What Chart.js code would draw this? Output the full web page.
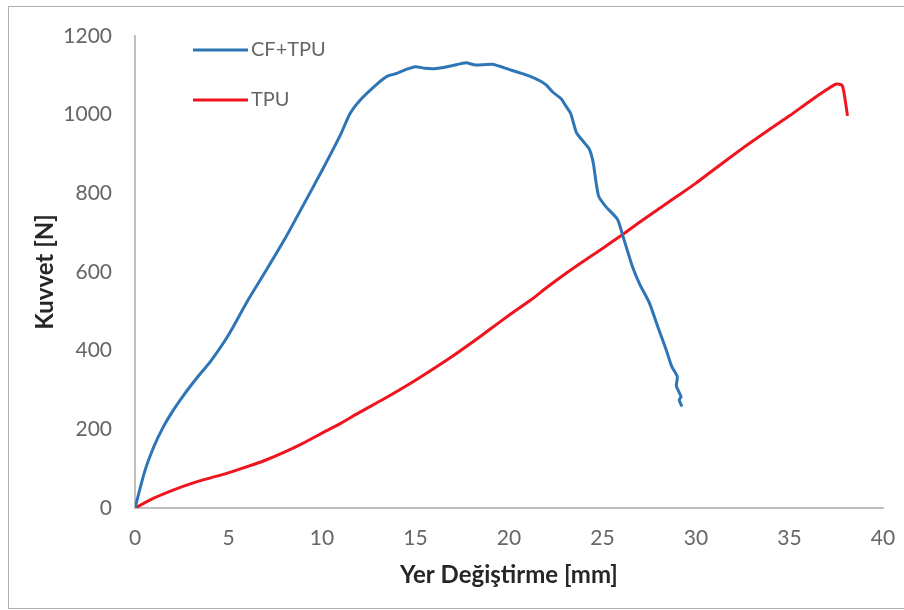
<!DOCTYPE html>
<html>
<head>
<meta charset="utf-8">
<script src="https://cdn.jsdelivr.net/npm/chart.js@4.4.1/dist/chart.umd.min.js"></script>
<style>
    html, body { margin: 0; padding: 0; background: #fff; }
    #wrap { position: relative; width: 904px; height: 610px; }
</style>
</head>
<body>
<div id="wrap"><canvas id="forceChart" width="904" height="610"></canvas></div>
<script>
// CF+TPU curve (displacement mm, force N)
const cfX = [0, 0.5, 1, 1.5, 2, 2.5, 3, 3.5, 4, 5, 6, 7, 8, 9, 10, 11, 11.5, 12, 13, 13.5, 14, 14.5, 15, 15.5, 16, 16.5, 17, 17.7, 18.2, 19.1, 20, 21, 21.7, 22.0, 22.35, 22.8, 23.0, 23.3, 23.6, 24.0, 24.3, 24.5, 24.65, 24.8, 25.2, 25.8, 26.1, 26.6, 27.0, 27.5, 28.0, 28.4, 28.7, 29.0, 28.95, 29.2, 29.1, 29.25];
const cfY = [0, 90, 155, 205, 245, 280, 312, 342, 370, 440, 525, 603, 683, 770, 858, 950, 1003, 1035, 1080, 1098, 1105, 1115, 1122, 1118, 1117, 1120, 1125, 1132, 1126, 1128, 1115, 1100, 1085, 1075, 1057, 1040, 1025, 1003, 955, 930, 912, 879, 830, 792, 765, 734, 690, 614, 568, 522, 455, 403, 360, 334, 310, 283, 275, 258];

// TPU curve
const tpuX = [0, 1, 2, 3, 4, 4.9, 6, 7, 7.9, 9, 10.1, 11, 12, 13.3, 15, 16.8, 18, 19, 20, 21.2, 22, 23, 24, 25, 26.1, 27, 28, 29, 30, 31, 32.5, 33, 34, 35, 36.1, 37, 37.5, 37.8, 37.9, 38, 38.1];
const tpuY = [0, 25, 45, 62, 76, 88, 105, 122, 140, 165, 193, 215, 243, 277, 325, 380, 420, 455, 490, 530, 560, 595, 628, 660, 696, 727, 760, 793, 826, 862, 915, 932, 965, 997, 1035, 1064, 1078, 1075, 1060, 1030, 997];

const seriesNames = ['CF+TPU', 'TPU'];
const xTitle = 'Yer Değiştirme [mm]';
const yTitle = 'Kuvvet [N]';

const FONT = 'Lato, "Open Sans", sans-serif';
const TICK_GRAY = '#666666';

function toPoints(xs, ys) {
    return xs.map((x, i) => ({ x: x, y: ys[i] }));
}

// legend drawn inside the plot, stacked vertically like the original
const insideLegend = {
    id: 'insideLegend',
    afterDatasetsDraw(chart) {
        const ctx = chart.ctx;
        const area = chart.chartArea;
        ctx.save();
        ctx.font = '20px ' + FONT;
        ctx.textBaseline = 'middle';
        chart.data.datasets.forEach((ds, i) => {
            const y = area.top + 14 + i * 50;
            const x0 = area.left + 58;
            ctx.strokeStyle = ds.borderColor;
            ctx.lineWidth = 3;
            ctx.beginPath();
            ctx.moveTo(x0, y);
            ctx.lineTo(x0 + 55, y);
            ctx.stroke();
            ctx.fillStyle = TICK_GRAY;
            ctx.fillText(ds.label, x0 + 58, y);
        });
        ctx.restore();
    }
};

const frameBorder = {
    id: 'frameBorder',
    afterDraw(chart) {
        const ctx = chart.ctx;
        ctx.save();
        ctx.strokeStyle = '#b0b0b0';
        ctx.lineWidth = 1;
        ctx.strokeRect(8.5, 6.5, 900, 602);
        ctx.restore();
    }
};

new Chart(document.getElementById('forceChart'), {
    type: 'scatter',
    data: {
        datasets: [
            {
                label: seriesNames[0],
                data: toPoints(cfX, cfY),
                showLine: true,
                borderColor: '#2E75B6',
                borderWidth: 3,
                pointRadius: 0,
                tension: 0.2
            },
            {
                label: seriesNames[1],
                data: toPoints(tpuX, tpuY),
                showLine: true,
                borderColor: '#F0141E',
                borderWidth: 3,
                pointRadius: 0,
                tension: 0.2
            }
        ]
    },
    options: {
        responsive: false,
        animation: false,
        layout: { padding: { left: 0, top: 36, right: 21, bottom: 0 } },
        plugins: { legend: { display: false }, tooltip: { enabled: false } },
        scales: {
            x: {
                type: 'linear',
                min: 0,
                max: 40,
                ticks: { stepSize: 5, color: TICK_GRAY, padding: 18, font: { family: FONT, size: 21 }, callback: (v) => String(v) },
                grid: { display: false, drawTicks: false },
                border: { display: true, color: '#bfbfbf', width: 2 },
                title: { display: true, text: xTitle, color: '#262626', padding: { bottom: 20 }, font: { family: FONT, size: 24, weight: 'bold' } },
                afterFit: (scale) => {
                    scale.height = 102;
                    scale.paddingRight = 0;
                    scale.paddingLeft = 0;
                }
            },
            y: {
                min: 0,
                max: 1200,
                ticks: { stepSize: 200, color: TICK_GRAY, padding: 23, font: { family: FONT, size: 21 }, callback: (v) => String(v) },
                grid: { display: false, drawTicks: false },
                border: { display: true, color: '#bfbfbf', width: 2 },
                title: { display: true, text: yTitle, color: '#262626', padding: { top: 31 }, font: { family: FONT, size: 24, weight: 'bold' } },
                afterFit: (scale) => { scale.width = 135; }
            }
        }
    },
    plugins: [insideLegend, frameBorder]
});
</script>
</body>
</html>
